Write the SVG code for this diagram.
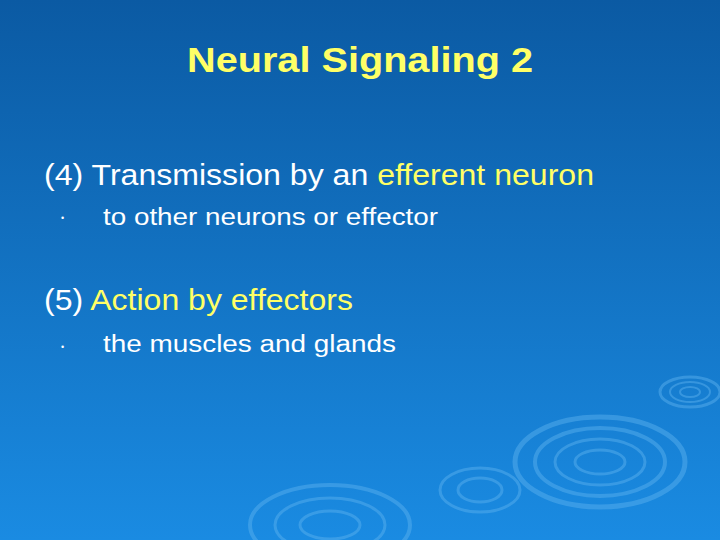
<svg xmlns="http://www.w3.org/2000/svg" width="720" height="540" viewBox="0 0 720 540">
<defs>
<linearGradient id="bg" x1="0" y1="0" x2="0" y2="1">
<stop offset="0" stop-color="#0b5aa3"/>
<stop offset="1" stop-color="#1a8be2"/>
</linearGradient>
<style>
.t{font-family:"Liberation Sans",Arial,sans-serif;fill:#fff}
.y{fill:#ffff66}
.r{fill:none;stroke:#5fb3f0;stroke-opacity:0.45}
</style>
</defs>
<rect width="720" height="540" fill="url(#bg)"/>
<g class="ripples">
<g transform="translate(690,392)">
<ellipse class="r" rx="30" ry="15" stroke-width="3"/><ellipse class="r" rx="20" ry="10" stroke-width="2"/><ellipse class="r" rx="10" ry="5" stroke-width="2"/>
</g>
<g transform="translate(600,462)">
<ellipse class="r" rx="85" ry="45" stroke-width="5"/><ellipse class="r" rx="65" ry="34" stroke-width="4"/><ellipse class="r" rx="45" ry="23" stroke-width="3"/><ellipse class="r" rx="25" ry="12" stroke-width="3"/>
</g>
<g transform="translate(480,490)">
<ellipse class="r" rx="40" ry="22" stroke-width="3"/><ellipse class="r" rx="22" ry="12" stroke-width="3"/>
</g>
<g transform="translate(330,525)">
<ellipse class="r" rx="80" ry="40" stroke-width="4"/><ellipse class="r" rx="55" ry="27" stroke-width="3"/><ellipse class="r" rx="30" ry="14" stroke-width="3"/>
</g>
</g>
<text class="t y" x="187" y="72" font-size="35" font-weight="bold" textLength="346" lengthAdjust="spacingAndGlyphs">Neural Signaling 2</text>
<text class="t" x="44" y="185" font-size="29" textLength="550" lengthAdjust="spacingAndGlyphs">(4) Transmission by an <tspan class="y">efferent neuron</tspan></text>
<text class="t" x="61" y="221" font-size="9">•</text>
<text class="t" x="103" y="225" font-size="23" textLength="335" lengthAdjust="spacingAndGlyphs">to other neurons or effector</text>
<text class="t" x="44" y="310" font-size="29" textLength="309" lengthAdjust="spacingAndGlyphs">(5) <tspan class="y">Action by effectors</tspan></text>
<text class="t" x="61" y="350" font-size="9">•</text>
<text class="t" x="103" y="352" font-size="23" textLength="293" lengthAdjust="spacingAndGlyphs">the muscles and glands</text>
</svg>
